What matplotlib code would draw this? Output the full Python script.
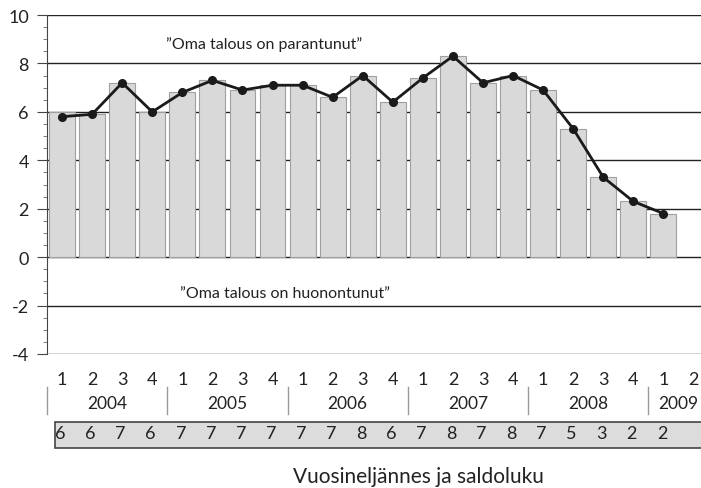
import matplotlib
matplotlib.use("Agg")
import matplotlib.pyplot as plt
import matplotlib.transforms as mtransforms
from matplotlib.patches import Rectangle
from matplotlib.lines import Line2D

# --- data ---
years = ["2004", "2005", "2006", "2007", "2008", "2009"]
quarter_labels = ["1", "2", "3", "4"] * 5 + ["1", "2"]
bar_values = [6.0, 5.9, 7.2, 6.0, 6.8, 7.3, 6.9, 7.1, 7.1, 6.6, 7.5,
              6.4, 7.4, 8.3, 7.2, 7.5, 6.9, 5.3, 3.3, 2.3, 1.8]
line_values = [5.8, 5.9, 7.2, 6.0, 6.8, 7.3, 6.9, 7.1, 7.1, 6.6, 7.5,
               6.4, 7.4, 8.3, 7.2, 7.5, 6.9, 5.3, 3.3, 2.3, 1.8]
saldo_labels = ["6", "6", "7", "6", "7", "7", "7", "7", "7", "7", "8",
                "6", "7", "8", "7", "8", "7", "5", "3", "2", "2"]
text_up = "\u201dOma talous on parantunut\u201d"
text_down = "\u201dOma talous on huonontunut\u201d"
xlabel = "Vuosineljännes ja saldoluku"

plt.rcParams["font.family"] = ["Lato", "DejaVu Sans"]
plt.rcParams["axes.unicode_minus"] = False
W, H = 701, 489
FS = 13
TXT = "#222222"
fig = plt.figure(figsize=(W / 100, H / 100), dpi=100)

def fy(px):
    # pixel row -> figure fraction
    return 1 - px / H

ax = fig.add_axes([47 / W, fy(355), (W - 47) / W, (355 - 16) / H])

x = list(range(len(quarter_labels)))
ax.bar(x[:len(bar_values)], bar_values, width=0.86, color="#d9d9d9",
       edgecolor="#a0a0a0", linewidth=0.8, zorder=2)
ax.plot(x[:len(line_values)], line_values, color="#1a1a1a", lw=2,
        marker="o", markersize=5.5, zorder=3)

ax.set_xlim(-0.5, 21.25)
ax.set_ylim(-4, 10)
ax.set_yticks(range(-4, 11, 2))
ax.set_yticks([v / 2 for v in range(-8, 21)], minor=True)
ax.yaxis.grid(True, color="#222222", lw=1.0, zorder=0)
ax.set_axisbelow(True)
ax.tick_params(axis="y", which="major", direction="out", length=7, width=0.8,
               labelsize=FS, pad=6, color="#444444", labelcolor=TXT)
ax.tick_params(axis="y", which="minor", direction="out", length=3, width=0.6,
               color="#666666")
ax.set_xticks([])
for s in ["top", "right", "bottom"]:
    ax.spines[s].set_visible(False)
ax.spines["left"].set_color("#444444")

ax.text(6.73, 8.84, text_up, ha="center", va="center", fontsize=11.5, color=TXT)
ax.text(7.43, -1.5, text_down, ha="center", va="center", fontsize=11.5, color=TXT)

# category labels below the plot
tr = mtransforms.blended_transform_factory(ax.transData, fig.transFigure)
for i, q in enumerate(quarter_labels):
    fig.text(i, fy(380), q, transform=tr, ha="center", va="center", fontsize=FS, color=TXT)
for k, yr in enumerate(years):
    left = k * 4 - 0.5
    fig.add_artist(Line2D([left, left], [fy(388), fy(415)], transform=tr,
                          color="#999999", lw=1))
    cx = k * 4 + 1.5 if k < 5 else 20.5
    fig.text(cx, fy(404), yr, transform=tr, ha="center", va="center", fontsize=12.5, color=TXT)

# saldo row
fig.add_artist(Rectangle((-0.22, fy(449)), 30, (449 - 423) / H, transform=tr,
                         facecolor="#dcdcdc", edgecolor="#444444", lw=1.2))
for i, v in enumerate(saldo_labels):
    fig.text(i - 0.05, fy(434), v, transform=tr, ha="center", va="center",
             fontsize=FS, color=TXT)

fig.text(418 / W, fy(477), xlabel, ha="center", va="center", fontsize=15, color=TXT)

fig.savefig("out.png", dpi=100)
